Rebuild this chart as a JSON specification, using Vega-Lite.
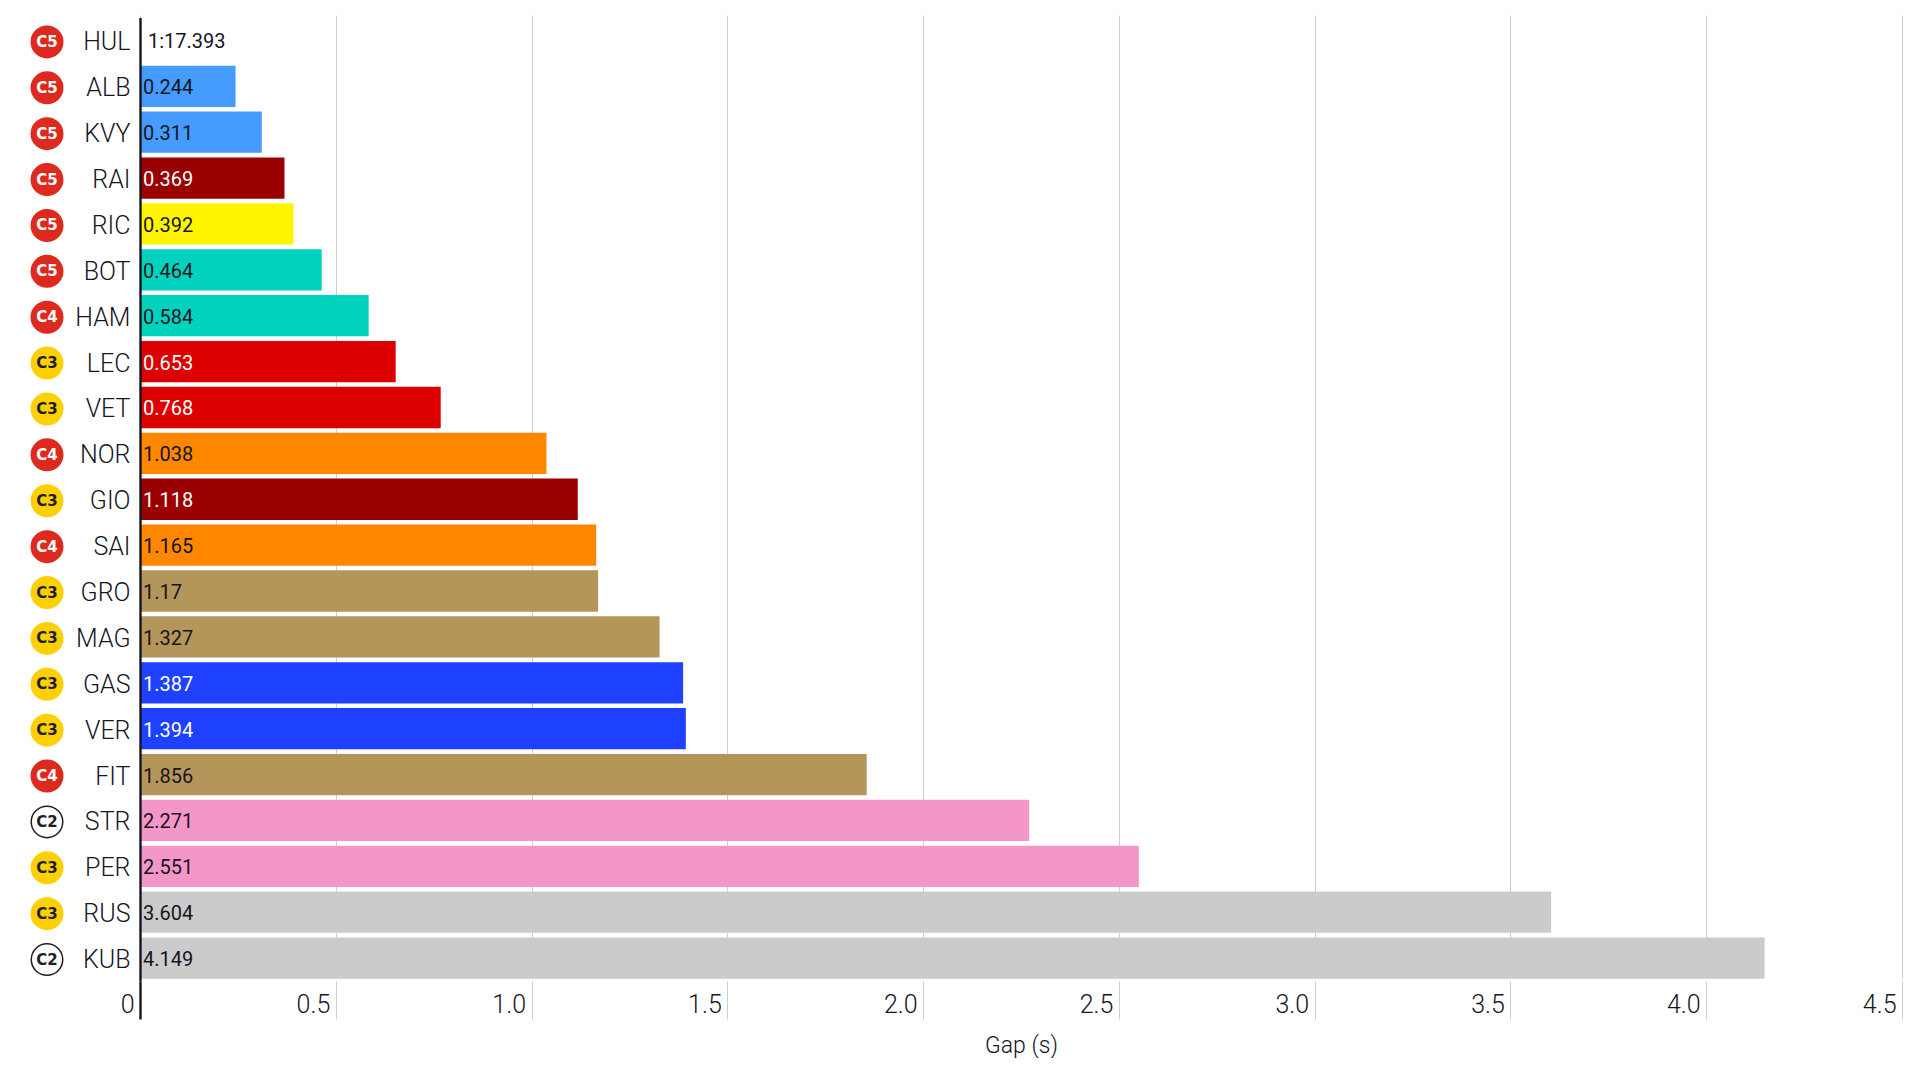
{
  "$schema": "https://vega.github.io/schema/vega-lite/v6.json",
  "padding": {"left": 0, "top": 15, "right": 18, "bottom": 0},
  "background": "white",
  "spacing": 46,
  "bounds": "flush",
  "datasets": {"laps": [
    {"driver":"HUL","tyre":"C5","team":"Renault","gap":0,"label":"1:17.393"},
    {"driver":"ALB","tyre":"C5","team":"Toro Rosso","gap":0.244,"label":"0.244"},
    {"driver":"KVY","tyre":"C5","team":"Toro Rosso","gap":0.311,"label":"0.311"},
    {"driver":"RAI","tyre":"C5","team":"Alfa Romeo","gap":0.369,"label":"0.369"},
    {"driver":"RIC","tyre":"C5","team":"Renault","gap":0.392,"label":"0.392"},
    {"driver":"BOT","tyre":"C5","team":"Mercedes","gap":0.464,"label":"0.464"},
    {"driver":"HAM","tyre":"C4","team":"Mercedes","gap":0.584,"label":"0.584"},
    {"driver":"LEC","tyre":"C3","team":"Ferrari","gap":0.653,"label":"0.653"},
    {"driver":"VET","tyre":"C3","team":"Ferrari","gap":0.768,"label":"0.768"},
    {"driver":"NOR","tyre":"C4","team":"McLaren","gap":1.038,"label":"1.038"},
    {"driver":"GIO","tyre":"C3","team":"Alfa Romeo","gap":1.118,"label":"1.118"},
    {"driver":"SAI","tyre":"C4","team":"McLaren","gap":1.165,"label":"1.165"},
    {"driver":"GRO","tyre":"C3","team":"Haas","gap":1.17,"label":"1.17"},
    {"driver":"MAG","tyre":"C3","team":"Haas","gap":1.327,"label":"1.327"},
    {"driver":"GAS","tyre":"C3","team":"Red Bull","gap":1.387,"label":"1.387"},
    {"driver":"VER","tyre":"C3","team":"Red Bull","gap":1.394,"label":"1.394"},
    {"driver":"FIT","tyre":"C4","team":"Haas","gap":1.856,"label":"1.856"},
    {"driver":"STR","tyre":"C2","team":"Racing Point","gap":2.271,"label":"2.271"},
    {"driver":"PER","tyre":"C3","team":"Racing Point","gap":2.551,"label":"2.551"},
    {"driver":"RUS","tyre":"C3","team":"Williams","gap":3.604,"label":"3.604"},
    {"driver":"KUB","tyre":"C2","team":"Williams","gap":4.149,"label":"4.149"}
  ]},
  "config": {"view": {"stroke": null}, "font": "Roboto"},
  "hconcat": [
    {
      "width": 94,
      "height": 966,
      "data": {"name": "laps"},
      "encoding": {
        "y": {"field": "driver", "type": "nominal", "sort": null, "axis": null,
              "scale": {"paddingInner": 0.1, "paddingOuter": 0.05, "range": [4, 967.5]}}
      },
      "layer": [
        {
          "mark": {"type": "point", "filled": false, "strokeWidth": 1.5, "opacity": 1},
          "encoding": {
            "fill": {"field": "tyre", "type": "nominal", "legend": null,
                     "scale": {"domain": ["C5","C4","C3","C2"], "range": ["#de2a1e","#de2a1e","#ffd000","#ffffff"]}},
            "stroke": {"field": "tyre", "type": "nominal", "legend": null,
                     "scale": {"domain": ["C5","C4","C3","C2"], "range": ["#de2a1e","#de2a1e","#ffd000","#1e1e28"]}},
            "size": {"field": "tyre", "type": "nominal", "legend": null,
                     "scale": {"domain": ["C5","C4","C3","C2"], "range": [992, 992, 1190, 992]}},
            "shape": {"value": "circle"}
          }
        },
        {
          "mark": {"type": "text", "fontWeight": "bold", "font": "DejaVu Sans", "fontSize": 15, "align": "center", "baseline": "middle"},
          "encoding": {
            "text": {"field": "tyre", "type": "nominal"},
            "color": {"condition": {"test": "datum.tyre === 'C5' || datum.tyre === 'C4'", "value": "#ffffff"}, "value": "#1e1e28"}
          }
        }
      ]
    },
    {
      "width": 1762,
      "height": 966,
      "data": {"name": "laps"},
      "encoding": {
        "y": {"field": "driver", "type": "nominal", "sort": null,
              "scale": {"paddingInner": 0.1, "paddingOuter": 0.05, "range": [2.5, 966]},
              "axis": {"title": null, "ticks": false, "domain": true, "domainColor": "#15151e", "domainWidth": 2.4,
                       "labelFontSize": 25, "labelFontWeight": 300, "labelColor": "#15151e", "labelPadding": 10, "labelOffset": 2,
                       "grid": false, "zindex": 2}}
      },
      "layer": [
        {
          "mark": {"type": "bar"},
          "encoding": {
            "x": {"field": "gap", "type": "quantitative",
                  "scale": {"domain": [0, 4.5], "nice": false},
                  "axis": {"values": [0,0.5,1,1.5,2,2.5,3,3.5,4,4.5], "title": "Gap (s)", "titleFontSize": 23, "titleFontWeight": 300,
                           "titleColor": "#15151e", "titlePadding": 14,
                           "grid": true, "gridColor": "#cfcfcf", "gridWidth": 1, "domain": false,
                           "tickSize": 38, "tickColor": {"condition": {"test": "datum.value === 0", "value": "#15151e"}, "value": "#cfcfcf"},
                           "tickWidth": {"condition": {"test": "datum.value === 0", "value": 2.4}, "value": 1},
                           "labelFontSize": 25, "labelFontWeight": 300, "labelColor": "#15151e",
                           "labelAlign": "right", "labelBaseline": "alphabetic", "labelPadding": -7, "labelOffset": -6, "labelFlush": false,
                           "labelExpr": "datum.value === 0 ? '0' : format(datum.value, '.1f')"}},
            "color": {"field": "team", "type": "nominal", "legend": null,
                      "scale": {"domain": ["Renault","Toro Rosso","Alfa Romeo","Mercedes","Ferrari","McLaren","Haas","Red Bull","Racing Point","Williams"],
                                "range": ["#fff500","#469bff","#9b0000","#00d2be","#dc0000","#ff8700","#b5965a","#1e41ff","#f596c8","#cbcbcb"]}}
          }
        },
        {
          "transform": [{"filter": "datum.driver !== 'HUL'"}],
          "mark": {"type": "text", "align": "left", "baseline": "middle", "dx": 3, "dy": 2, "fontSize": 20, "fontWeight": 400},
          "encoding": {
            "x": {"datum": 0, "type": "quantitative"},
            "text": {"field": "label", "type": "nominal"},
            "color": {"condition": {"test": "indexof(['Alfa Romeo','Ferrari','Red Bull'], datum.team) >= 0", "value": "#ffffff"}, "value": "#15151e"}
          }
        },
        {
          "transform": [{"filter": "datum.driver === 'HUL'"}],
          "mark": {"type": "text", "align": "left", "baseline": "middle", "dx": 8, "dy": 2, "fontSize": 20, "fontWeight": 400, "color": "#15151e"},
          "encoding": {
            "x": {"datum": 0, "type": "quantitative"},
            "text": {"field": "label", "type": "nominal"}
          }
        }
      ]
    }
  ]
}
